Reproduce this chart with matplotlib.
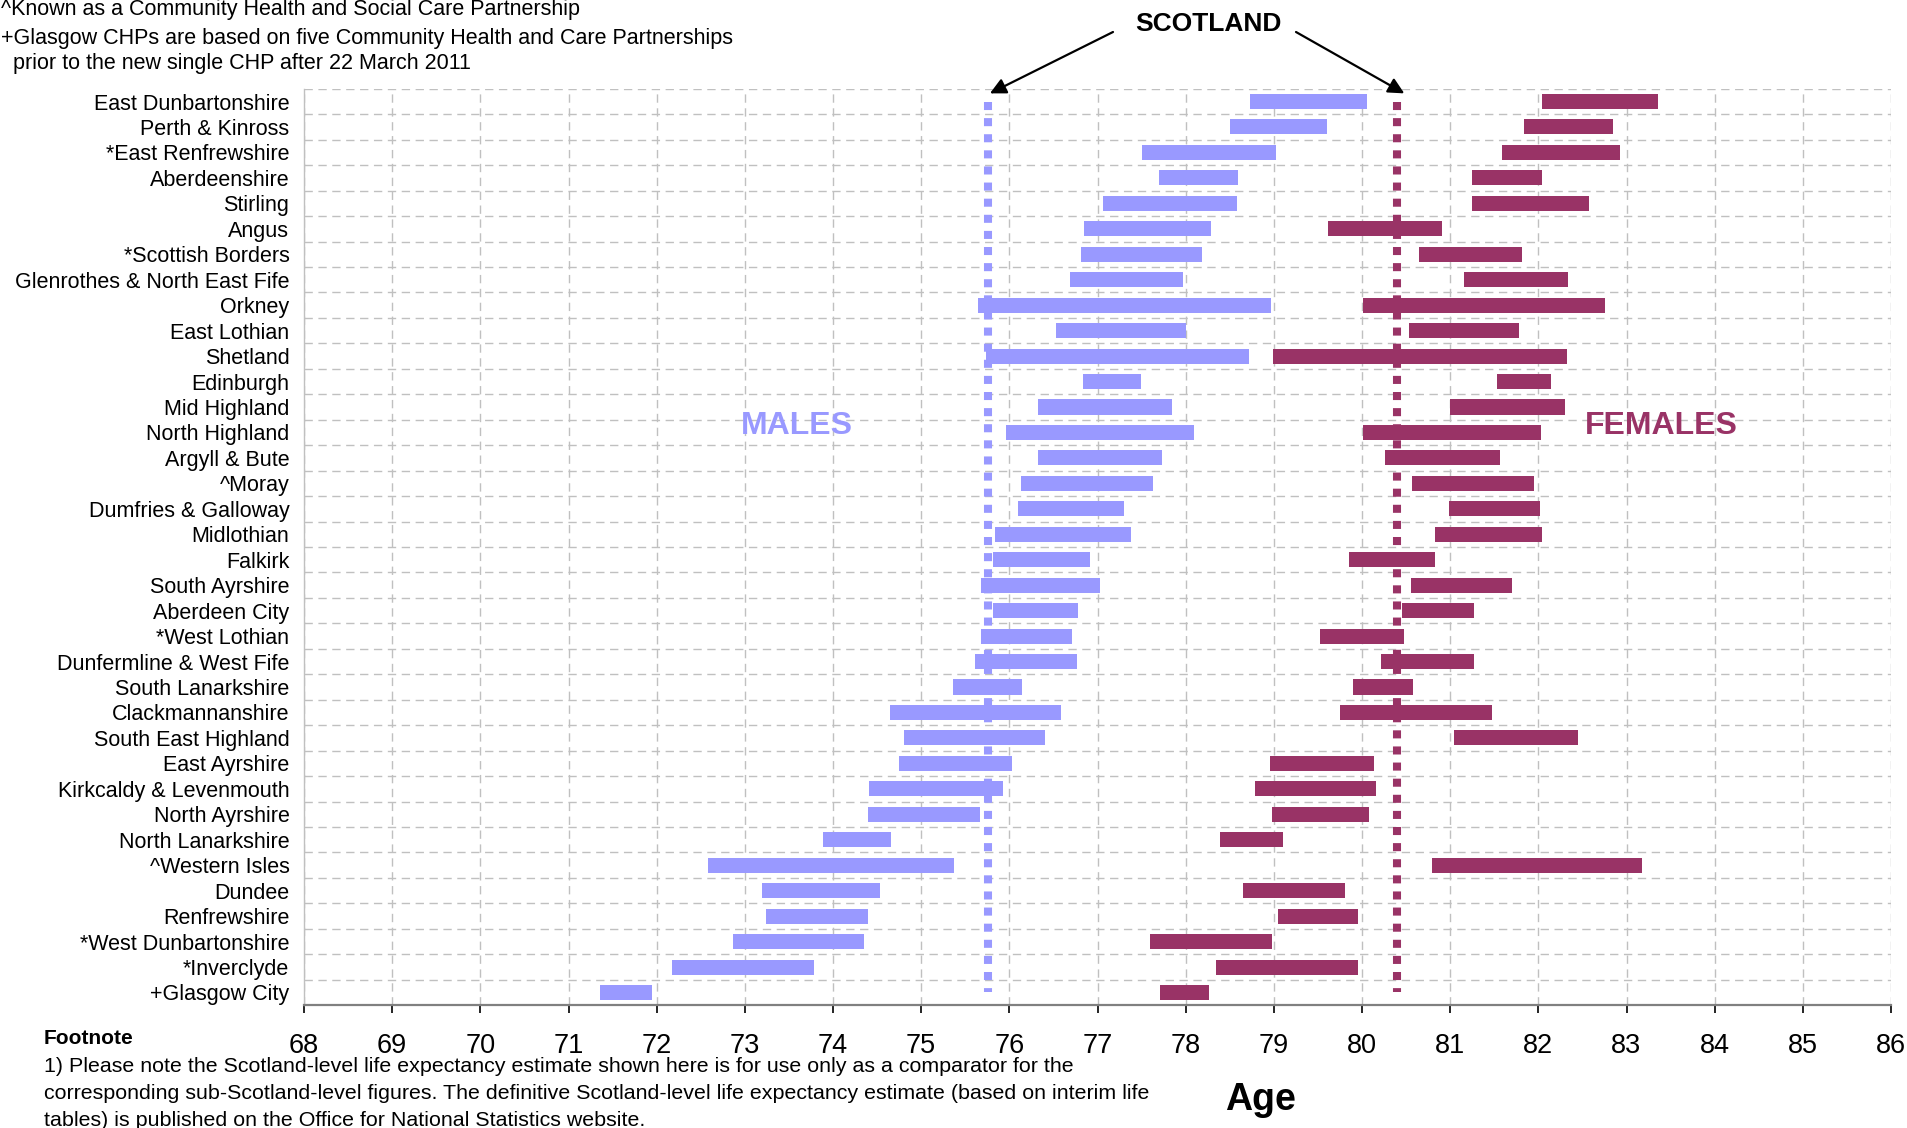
import matplotlib
matplotlib.use("Agg")
import matplotlib.pyplot as plt
import numpy as np

plt.rcParams['font.family'] = ['Liberation Sans', 'DejaVu Sans']

areas = ["East Dunbartonshire", "Perth & Kinross", "*East Renfrewshire", "Aberdeenshire",
         "Stirling", "Angus", "*Scottish Borders", "Glenrothes & North East Fife", "Orkney",
         "East Lothian", "Shetland", "Edinburgh", "Mid Highland", "North Highland",
         "Argyll & Bute", "^Moray", "Dumfries & Galloway", "Midlothian", "Falkirk",
         "South Ayrshire", "Aberdeen City", "*West Lothian", "Dunfermline & West Fife",
         "South Lanarkshire", "Clackmannanshire", "South East Highland", "East Ayrshire",
         "Kirkcaldy & Levenmouth", "North Ayrshire", "North Lanarkshire", "^Western Isles",
         "Dundee", "Renfrewshire", "*West Dunbartonshire", "*Inverclyde", "+Glasgow City"]

male_low = [78.73, 78.50, 77.51, 77.70, 77.06, 76.85, 76.81, 76.69, 75.65,
            76.53, 75.74, 76.84, 76.32, 75.96, 76.32, 76.13, 76.10, 75.84,
            75.82, 75.68, 75.82, 75.68, 75.61, 75.36, 74.65, 74.80, 74.75,
            74.41, 74.40, 73.89, 72.58, 73.19, 73.24, 72.87, 72.17, 71.36]
male_high = [80.06, 79.60, 79.03, 78.59, 78.58, 78.29, 78.18, 77.97, 78.97,
             78.00, 78.72, 77.49, 77.85, 78.09, 77.73, 77.63, 77.30, 77.38,
             76.92, 77.03, 76.78, 76.71, 76.77, 76.14, 76.59, 76.41, 76.03,
             75.93, 75.67, 74.66, 75.37, 74.53, 74.40, 74.35, 73.79, 71.95]
female_low = [82.04, 81.84, 81.59, 81.25, 81.25, 79.62, 80.65, 81.16, 80.01,
              80.53, 78.99, 81.53, 81.00, 80.01, 80.26, 80.57, 80.99, 80.83,
              79.85, 80.56, 80.45, 79.52, 80.22, 79.90, 79.75, 81.04, 78.96,
              78.79, 78.98, 78.39, 80.79, 78.65, 79.05, 77.60, 78.34, 77.71]
female_high = [83.36, 82.85, 82.93, 82.04, 82.58, 80.91, 81.82, 82.34, 82.76,
               81.78, 82.32, 82.14, 82.30, 82.03, 81.56, 81.95, 82.02, 82.04,
               80.83, 81.70, 81.27, 80.48, 81.27, 80.58, 81.47, 82.45, 80.14,
               80.16, 80.08, 79.10, 83.18, 79.81, 79.96, 78.98, 79.96, 78.26]

scotland_male = 75.76
scotland_female = 80.40
x_ticks = list(range(68, 87))

note_lines = ["^Known as a Community Health and Social Care Partnership",
              "+Glasgow CHPs are based on five Community Health and Care Partnerships",
              "  prior to the new single CHP after 22 March 2011"]
footnote_lines = ["1) Please note the Scotland-level life expectancy estimate shown here is for use only as a comparator for the",
                  "corresponding sub-Scotland-level figures. The definitive Scotland-level life expectancy estimate (based on interim life",
                  "tables) is published on the Office for National Statistics website."]

MALE_C = '#9999FF'
FEMALE_C = '#993366'
GRID_C = '#C0C0C0'

W, H = 1907, 1128
fig = plt.figure(figsize=(W / 100, H / 100), dpi=100)
ax = fig.add_axes([304 / W, 1 - 1005.2 / H, (1891 - 304) / W, (1005.2 - 88.8) / H])

n = len(areas)
y = np.arange(n)
ml = np.array(male_low); mh = np.array(male_high)
fl = np.array(female_low); fh = np.array(female_high)

ax.barh(y, mh - ml, left=ml, height=0.59, color=MALE_C, zorder=3)
ax.barh(y, fh - fl, left=fl, height=0.59, color=FEMALE_C, zorder=3)

ax.plot([scotland_male, scotland_male], [0, n - 1], color=MALE_C, lw=5.8,
        linestyle=(0, (1, 1)), solid_capstyle='butt', dash_capstyle='butt', zorder=4)
ax.plot([scotland_female, scotland_female], [0, n - 1], color=FEMALE_C, lw=5.8,
        linestyle=(0, (1, 1)), solid_capstyle='butt', dash_capstyle='butt', zorder=4)

ax.set_xlim(68, 86)
ax.set_ylim(n - 0.5, -0.5)
ax.set_xticks(x_ticks)
ax.set_xticklabels([str(t) for t in x_ticks], fontsize=19.5)
ax.set_yticks(y)
ax.set_yticklabels(areas, fontsize=15.5)
ax.set_yticks(np.arange(n + 1) - 0.5, minor=True)

ax.tick_params(axis='y', which='both', length=0, pad=10.5)
ax.tick_params(axis='x', which='major', direction='out', length=6, width=1.2,
               color='black', pad=14)

ax.grid(axis='x', which='major', color=GRID_C, lw=1.0, linestyle=(0, (6, 4)), zorder=0)
ax.grid(axis='y', which='minor', color=GRID_C, lw=1.0, linestyle=(0, (6, 4)), zorder=0)
ax.grid(axis='y', which='major', visible=False)
ax.set_axisbelow(True)

for s in ['top', 'right']:
    ax.spines[s].set_visible(False)
ax.spines['left'].set_color(GRID_C)
ax.spines['left'].set_linewidth(1.0)
ax.spines['bottom'].set_color('#808080')
ax.spines['bottom'].set_linewidth(1.6)

def fx(px):
    return px / W

def fy(py):
    return 1 - py / H

# notes at top
for line, yy in zip(note_lines, [9, 38.5, 64]):
    fig.text(fx(1), fy(yy), line, fontsize=15.5, ha='left', va='center')

# SCOTLAND label and arrows
fig.text(fx(1208), fy(24), "SCOTLAND", fontsize=19, fontweight='bold', ha='center', va='center')
ax.annotate('', xy=(scotland_male + 0.02, -0.32), xycoords='data',
            xytext=(fx(1113), fy(32)), textcoords='figure fraction',
            arrowprops=dict(arrowstyle='-|>', color='black', lw=1.6, mutation_scale=24,
                            shrinkA=0, shrinkB=0), annotation_clip=False)
ax.annotate('', xy=(scotland_female + 0.08, -0.32), xycoords='data',
            xytext=(fx(1296), fy(32)), textcoords='figure fraction',
            arrowprops=dict(arrowstyle='-|>', color='black', lw=1.6, mutation_scale=24,
                            shrinkA=0, shrinkB=0), annotation_clip=False)

# MALES / FEMALES labels
ax.text(73.59, 12.75, "MALES", fontsize=23, fontweight='bold', color=MALE_C,
        ha='center', va='center', zorder=5)
ax.text(83.39, 12.75, "FEMALES", fontsize=23, fontweight='bold', color=FEMALE_C,
        ha='center', va='center', zorder=5)

# Axis title
fig.text(fx(1261), fy(1100), "Age", fontsize=27, fontweight='bold', ha='center', va='center')

# Footnote
fig.text(fx(44), fy(1038.5), "Footnote", fontsize=15, fontweight='bold', ha='left', va='center')
for line, yy in zip(footnote_lines, [1066.5, 1093.5, 1120]):
    fig.text(fx(44), fy(yy), line, fontsize=15.4, ha='left', va='center')

fig.savefig("out.png", dpi=100)
